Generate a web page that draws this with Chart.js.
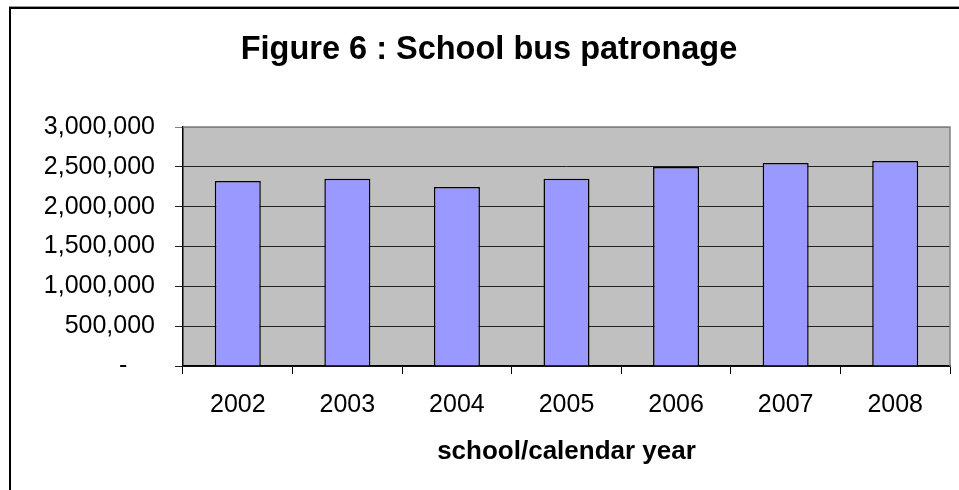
<!DOCTYPE html>
<html>
<head>
<meta charset="utf-8">
<script src="https://cdn.jsdelivr.net/npm/chart.js@4/dist/chart.umd.min.js"></script>
<style>
  html, body { margin: 0; padding: 0; background: #fff; }
  #wrap { width: 959px; height: 490px; position: relative; }
</style>
</head>
<body>
<div id="wrap"><canvas id="myChart" width="959" height="490"></canvas></div>
<script>
// data
var years = ["2002", "2003", "2004", "2005", "2006", "2007", "2008"];
var patronage = [2322000, 2351000, 2247000, 2351000, 2498000, 2548000, 2573000];
var yTicks = [0, 500000, 1000000, 1500000, 2000000, 2500000, 3000000];

var FONT = "'Liberation Sans', Arial, sans-serif";

// grey plot area + outer frame of the chart object
var plotBg = {
  id: "plotBg",
  beforeDraw: function (chart) {
    var ctx = chart.ctx, a = chart.chartArea;
    ctx.save();
    ctx.fillStyle = "#fff";
    ctx.fillRect(0, 0, chart.width, chart.height);
    // outer frame (left + top only, the rest is cropped)
    ctx.strokeStyle = "#000";
    ctx.lineWidth = 2;
    ctx.beginPath();
    ctx.moveTo(10, chart.height);
    ctx.lineTo(10, 8);
    ctx.lineTo(chart.width, 8);
    ctx.stroke();
    ctx.strokeStyle = "#999";
    ctx.lineWidth = 1;
    ctx.beginPath();
    ctx.moveTo(9, 6.5);
    ctx.lineTo(chart.width, 6.5);
    ctx.stroke();
    ctx.fillStyle = "#c0c0c0";
    ctx.fillRect(a.left, a.top, a.right - a.left, a.bottom - a.top);
    ctx.restore();
  },
  afterDatasetsDraw: function (chart) {
    var ctx = chart.ctx, a = chart.chartArea;
    ctx.save();
    ctx.strokeStyle = "#808080";
    ctx.lineWidth = 1.5;
    ctx.beginPath();
    ctx.moveTo(a.left, a.top);
    ctx.lineTo(a.right, a.top);
    ctx.lineTo(a.right, a.bottom);
    ctx.stroke();
    ctx.restore();
  }
};

var ctx = document.getElementById("myChart").getContext("2d");
var chart = new Chart(ctx, {
  type: "bar",
  data: {
    labels: years,
    datasets: [
      {
        label: "School bus patronage",
        data: patronage,
        backgroundColor: "#9999ff",
        borderColor: "#000",
        borderWidth: 1.5,
        barPercentage: 0.42,
        categoryPercentage: 1.0
      }
    ]
  },
  options: {
    responsive: false,
    animation: false,
    devicePixelRatio: 1,
    layout: { padding: { left: 28, right: 9, top: 0, bottom: 0 } },
    plugins: {
      legend: { display: false },
      tooltip: { enabled: false },
      title: {
        display: true,
        text: "Figure 6 : School bus patronage",
        color: "#000",
        font: { family: FONT, size: 32.5, weight: "bold" },
        padding: { top: 31, bottom: 57 }
      }
    },
    scales: {
      x: {
        offset: true,
        grid: { offset: true, drawOnChartArea: false, color: "#000", tickLength: 8 },
        border: { color: "#000", width: 1.5 },
        ticks: { color: "#000", padding: 16, font: { family: FONT, size: 25 } },
        title: {
          display: true,
          text: "school/calendar year",
          color: "#000",
          font: { family: FONT, size: 26, weight: "bold" },
          padding: { top: 0, bottom: 23 }
        },
        afterFit: function (scale) { scale.height = 124; }
      },
      y: {
        min: 0,
        max: 3000000,
        afterBuildTicks: function (scale) {
          scale.ticks = yTicks.map(function (v) { return { value: v }; });
        },
        grid: {
          color: function (c) { return c.index === yTicks.length - 1 ? "#808080" : "#222"; },
          tickLength: 8
        },
        border: { color: "#000", width: 1.5 },
        ticks: {
          color: "#000",
          padding: 20,
          font: { family: FONT, size: 25 },
          callback: function (v) {
            return v === 0 ? "-    " : v.toLocaleString("en-US");
          }
        },
        afterFit: function (scale) { scale.width = 155; }
      }
    }
  },
  plugins: [plotBg]
});
</script>
</body>
</html>
